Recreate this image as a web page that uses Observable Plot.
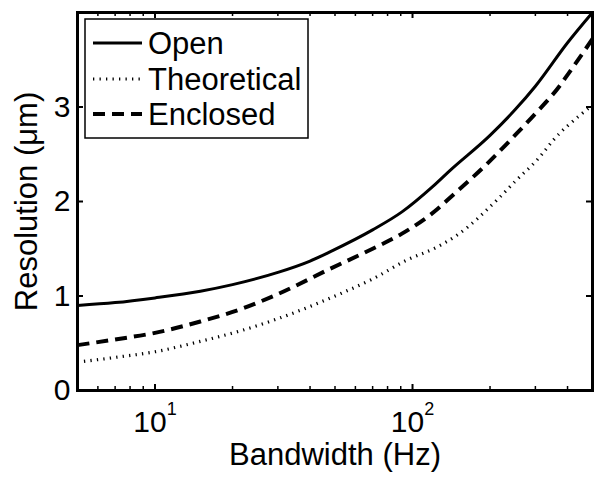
<!DOCTYPE html>
<html>
<head>
<meta charset="utf-8">
<script src="https://cdn.jsdelivr.net/npm/d3@7"></script>
<script src="https://cdn.jsdelivr.net/npm/@observablehq/plot@0.6"></script>
<style>
  html, body { margin: 0; padding: 0; background: #fff; }
</style>
</head>
<body>
<div id="chart"></div>
<script>
// ---- data ----
const seriesNames = ["Open", "Theoretical", "Enclosed"];

const openHz  = [5, 7, 10, 15, 20, 30, 40, 48, 70, 91, 120, 140, 200, 250, 300, 400, 500];
const openRes = [0.90, 0.93, 0.98, 1.05, 1.12, 1.25, 1.37, 1.47, 1.70, 1.89, 2.16, 2.33, 2.70, 2.97, 3.22, 3.68, 4.00];

const theoHz  = [5, 7, 10, 15, 22, 30, 53, 70, 95, 125, 150, 219, 254, 300, 372, 400, 500];
const theoRes = [0.30, 0.35, 0.41, 0.52, 0.64, 0.76, 1.03, 1.18, 1.38, 1.52, 1.65, 2.05, 2.23, 2.42, 2.72, 2.80, 3.02];

const enclHz  = [5, 7, 10, 15, 22, 30, 48, 70, 91, 125, 136, 200, 254, 300, 372, 400, 500];
const enclRes = [0.48, 0.54, 0.61, 0.73, 0.87, 1.02, 1.29, 1.50, 1.66, 1.92, 2.01, 2.43, 2.72, 2.93, 3.22, 3.34, 3.72];

const xMajorTicks = [10, 100];
const xMinorTicks = [6, 7, 8, 9, 20, 30, 40, 50, 60, 70, 80, 90, 200, 300, 400];
const yMajorTicks = [0, 1, 2, 3];

const xTitle = "Bandwidth (Hz)";
const yTitle = "Resolution (μm)";

// ---- layout ----
const W = 604, H = 485, mL = 77, mR = 12, mT = 12, mB = 95;
const fw = W - mL - mR, fh = H - mT - mB;
const FONT = "'Liberation Sans', Arial, Helvetica, sans-serif";

const toRows = (name, xs, ys) => xs.map((x, i) => ({series: name, x, y: ys[i]}));
const openRows = toRows(seriesNames[0], openHz, openRes);
const theoRows = toRows(seriesNames[1], theoHz, theoRes);
const enclRows = toRows(seriesNames[2], enclHz, enclRes);

const styles = {
  Open:        {strokeWidth: 3, strokeDasharray: null},
  Theoretical: {strokeWidth: 3.2, strokeDasharray: "1.3,5.2"},
  Enclosed:    {strokeWidth: 4, strokeDasharray: "12,7"}
};

const plot = Plot.plot({
  width: W, height: H,
  marginLeft: mL, marginRight: mR, marginTop: mT, marginBottom: mB,
  style: {fontFamily: FONT, fontSize: "30px", color: "#000", background: "#fff", overflow: "visible"},
  x: {type: "log", domain: [5, 500]},
  y: {domain: [0, 4]},
  marks: [
    Plot.line(theoRows, {x: "x", y: "y", curve: "monotone-x", stroke: "#000", strokeWidth: styles.Theoretical.strokeWidth, strokeDasharray: styles.Theoretical.strokeDasharray, strokeLinecap: "butt"}),
    Plot.line(enclRows, {x: "x", y: "y", curve: "monotone-x", stroke: "#000", strokeWidth: styles.Enclosed.strokeWidth, strokeDasharray: styles.Enclosed.strokeDasharray, strokeLinecap: "butt"}),
    Plot.line(openRows, {x: "x", y: "y", curve: "monotone-x", stroke: "#000", strokeWidth: styles.Open.strokeWidth}),
    // inward ticks, bottom & top
    Plot.tickX(xMajorTicks, {x: d => d, insetTop: fh - 6, stroke: "#000", strokeWidth: 2}),
    Plot.tickX(xMajorTicks, {x: d => d, insetBottom: fh - 6, stroke: "#000", strokeWidth: 2}),
    Plot.tickX(xMinorTicks, {x: d => d, insetTop: fh - 4, stroke: "#000", strokeWidth: 1.5}),
    Plot.tickX(xMinorTicks, {x: d => d, insetBottom: fh - 4, stroke: "#000", strokeWidth: 1.5}),
    // inward ticks, left & right
    Plot.tickY(yMajorTicks, {y: d => d, insetRight: fw - 6, stroke: "#000", strokeWidth: 2}),
    Plot.tickY(yMajorTicks, {y: d => d, insetLeft: fw - 6, stroke: "#000", strokeWidth: 2}),
    Plot.axisX({ticks: xMajorTicks, tickSize: 0, tickPadding: 20, label: null, fill: "#000",
                tickFormat: d => "10^" + Math.round(Math.log10(d))}),
    Plot.axisY({ticks: yMajorTicks, tickSize: 0, tickPadding: 7, label: null, fill: "#000",
                tickFormat: d => String(d)}),
    Plot.frame({stroke: "#000", strokeWidth: 3}),
    Plot.text([xTitle], {frameAnchor: "bottom", dy: 74, text: d => d, fontSize: 31, fill: "#000", textAnchor: "middle"}),
    Plot.text([yTitle], {frameAnchor: "left", dx: -50, rotate: -90, text: d => d, fontSize: 31, fill: "#000", textAnchor: "middle"})
  ]
});

document.getElementById("chart").appendChild(plot);

// force tick-label size on the text elements themselves
d3.select(plot).selectAll('g[aria-label="x-axis tick label"] text, g[aria-label="y-axis tick label"] text')
  .attr("font-size", null).style("font-size", "30px").style("font-family", FONT).style("font-variant", "normal");

// superscript exponents on x tick labels
d3.select(plot).selectAll('g[aria-label="x-axis tick label"] text').each(function() {
  const parts = this.textContent.split("^");
  const sel = d3.select(this);
  sel.text(null);
  sel.append("tspan").text(parts[0]);
  sel.append("tspan").attr("dy", "-17px").style("font-size", "18px").text(parts[1]);
});

// legend
const svg = d3.select(plot);
const lg = svg.append("g").attr("font-family", FONT).attr("font-size", 31).attr("text-anchor", "start");
lg.append("rect").attr("x", 85).attr("y", 19).attr("width", 223).attr("height", 119)
  .attr("fill", "#fff").attr("stroke", "#000").attr("stroke-width", 1.5);
const rowY = [43, 79, 114];
seriesNames.forEach((name, i) => {
  const st = styles[name];
  lg.append("line").attr("x1", 93).attr("x2", 142).attr("y1", rowY[i]).attr("y2", rowY[i])
    .attr("stroke", "#000").attr("stroke-width", st.strokeWidth)
    .attr("stroke-dasharray", st.strokeDasharray);
  lg.append("text").attr("x", 148).attr("y", rowY[i] + 11).attr("fill", "#000").text(name);
});
</script>
</body>
</html>
